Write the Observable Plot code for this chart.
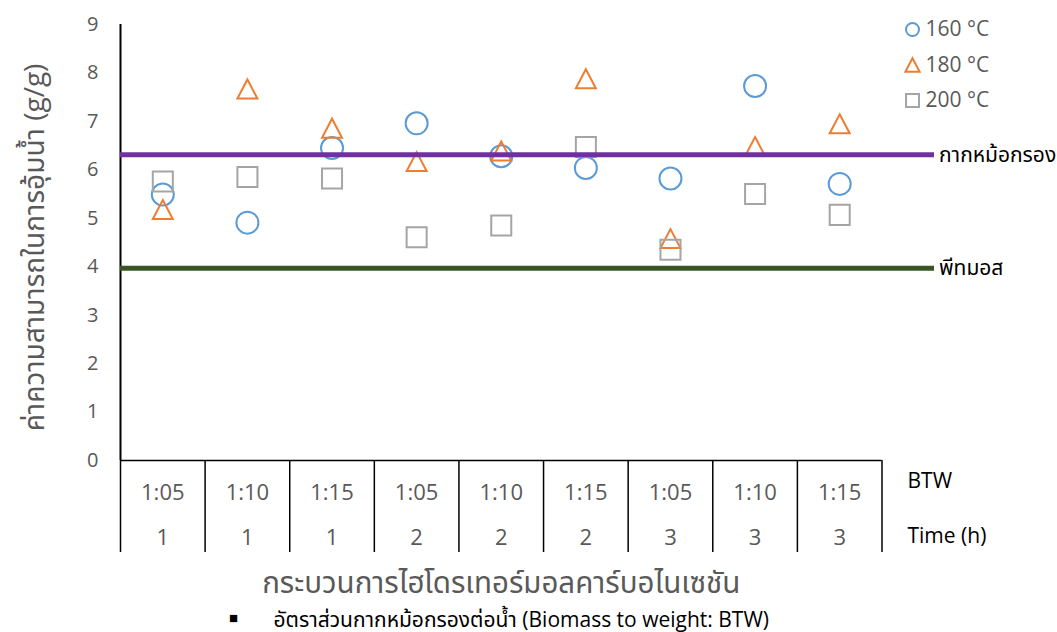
<!DOCTYPE html>
<html><head><meta charset="utf-8">
<script src="https://cdn.jsdelivr.net/npm/d3@7"></script>
<script src="https://cdn.jsdelivr.net/npm/@observablehq/plot@0.6"></script>
<style>body{margin:0;background:#fff;} svg{display:block}</style>
</head><body><div id="chart"></div>
<script>
const btw = ["1:05","1:10","1:15","1:05","1:10","1:15","1:05","1:10","1:15"];
const timeH = ["1","1","1","2","2","2","3","3","3"];
const s160 = [5.49,4.91,6.45,6.96,6.28,6.04,5.82,7.73,5.71];
const s180 = [5.18,7.67,6.86,6.17,6.39,7.88,4.58,6.48,6.95];
const s200 = [5.76,5.85,5.82,4.61,4.85,6.47,4.35,5.50,5.07];
const seriesNames = ["160 °C","180 °C","200 °C"];
const seriesColors = ["#5B9BD5","#ED7D31","#A5A5A5"];
const refNames = ["กากหม้อกรอง","พีทมอส"];
const refValues = [6.31, 3.97];
const refColors = ["#7030A0","#375623"];
const yTicks = [0,1,2,3,4,5,6,7,8,9];
const rowNames = ["BTW","Time (h)"];
const yTitle = "ค่าความสามารถในการอุ้มน้ำ (g/g)";
const xTitle = "กระบวนการไฮโดรเทอร์มอลคาร์บอไนเซชัน";
const note = "อัตราส่วนกากหม้อกรองต่อน้ำ (Biomass to weight: BTW)";

const idx = btw.map((_, i) => i);
const bounds = d3.range(btw.length + 1);
const seriesValues = [s160, s180, s200];

const excelTriangle = {
  draw(ctx, size) {
    const r = Math.sqrt(size / Math.PI);
    ctx.moveTo(0, -r);
    ctx.lineTo(r * 1.05, r);
    ctx.lineTo(-r * 1.05, r);
    ctx.closePath();
  }
};
const symbols = ["circle", excelTriangle, "square"];
const radii = [11, 9.5, 11.3];
const legendRadii = [6.5, 6.8, 7.3];

const grey = "#595959";
const marks = [];

// y axis line and table separators
marks.push(Plot.ruleX([0], {y1: 0, y2: 9, stroke: "#000", strokeWidth: 2}));
marks.push(Plot.ruleX(bounds, {x: d => d, y1: 0, y2: 0, insetBottom: -92, stroke: "#000", strokeWidth: 1.5}));
marks.push(Plot.ruleY([0], {stroke: "#000", strokeWidth: 1.5}));
marks.push(Plot.axisY({ticks: yTicks, tickSize: 0, tickPadding: 22, fontSize: 20, fill: grey, label: null}));

// data points
seriesValues.forEach((vals, k) => {
  marks.push(Plot.dot(idx, {x: i => i + 0.5, y: i => vals[i], symbol: symbols[k], r: radii[k], stroke: seriesColors[k], strokeWidth: 2, fill: "none"}));
});

// reference lines
refValues.forEach((v, k) => {
  marks.push(Plot.ruleY([v], {stroke: refColors[k], strokeWidth: 5, insetRight: -52.5}));
  marks.push(Plot.text([refNames[k]], {y: () => v, frameAnchor: "right", dx: 57, textAnchor: "start", lineAnchor: "middle", fontSize: 21, fill: "#000"}));
});

// legend
seriesNames.forEach((name, k) => {
  marks.push(Plot.dot([name], {frameAnchor: "top-right", dx: 30.5, dy: 5 + k * 35.5, symbol: symbols[k], r: legendRadii[k], stroke: seriesColors[k], strokeWidth: 2, fill: "none"}));
  marks.push(Plot.text([name], {frameAnchor: "top-right", dx: 43.5, dy: 5 + k * 35.5, text: d => d, textAnchor: "start", lineAnchor: "middle", fontSize: 21, fill: grey}));
});

// category table labels
marks.push(Plot.text(idx, {x: i => i + 0.5, text: i => btw[i], frameAnchor: "bottom", dy: 32, lineAnchor: "middle", fontSize: 22, fill: grey}));
marks.push(Plot.text(idx, {x: i => i + 0.5, text: i => timeH[i], frameAnchor: "bottom", dy: 77, lineAnchor: "middle", fontSize: 22, fill: grey}));
marks.push(Plot.text([rowNames[0]], {frameAnchor: "bottom-right", dx: 25.5, dy: 21, text: d => d, textAnchor: "start", lineAnchor: "middle", fontSize: 21, fill: "#000"}));
marks.push(Plot.text([rowNames[1]], {frameAnchor: "bottom-right", dx: 25.5, dy: 76, text: d => d, textAnchor: "start", lineAnchor: "middle", fontSize: 21, fill: "#000"}));

// titles
marks.push(Plot.text([xTitle], {frameAnchor: "bottom", dy: 123, text: d => d, lineAnchor: "middle", fontSize: 29.5, fill: grey}));
marks.push(Plot.text(["■"], {frameAnchor: "bottom-left", dx: 113, dy: 158, text: d => d, textAnchor: "middle", lineAnchor: "middle", fontSize: 15, fill: "#000"}));
marks.push(Plot.text([note], {frameAnchor: "bottom-left", dx: 153, dy: 160, text: d => d, textAnchor: "start", lineAnchor: "middle", fontSize: 21, fill: "#000"}));
marks.push(Plot.text([yTitle], {frameAnchor: "left", dx: -85, dy: 5, rotate: -90, text: d => d, textAnchor: "middle", lineAnchor: "middle", fontSize: 28, fill: grey}));

const plot = Plot.plot({
  width: 1057,
  height: 632,
  marginLeft: 120,
  marginRight: 175.5,
  marginTop: 24,
  marginBottom: 172,
  x: {type: "linear", domain: [0, btw.length], axis: null},
  y: {domain: [0, 9], axis: null},
  style: {fontFamily: "'Open Sans', 'Noto Sans Thai', 'Noto Sans', sans-serif", background: "#fff", overflow: "visible"},
  marks
});
document.getElementById("chart").append(plot);
</script>
</body></html>
